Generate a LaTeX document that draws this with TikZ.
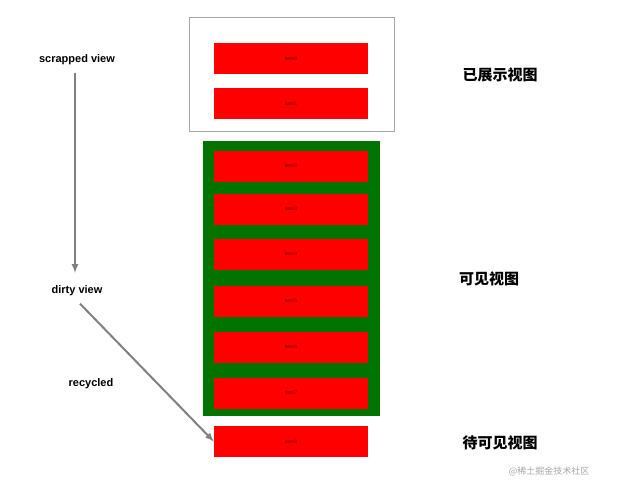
\documentclass[tikz,border=0pt]{standalone}
\usepackage{fontspec}
\setmainfont{Liberation Sans}
\newfontfamily\cjk{Noto Sans CJK SC}
\begin{document}
\begin{tikzpicture}[x=1pt,y=-1pt,
    itembox/.style={fill=red,minimum width=154pt,minimum height=31pt,inner sep=0pt,font=\fontsize{5}{6}\selectfont,text=black!60!red},
    lbl/.style={font=\fontsize{11}{13}\selectfont\bfseries},
    zone/.style={font=\cjk\fontsize{15}{18}\selectfont\bfseries},
    arr/.style={->,>=latex,draw=gray,line width=2pt}]
  \useasboundingbox (0,0) rectangle (620,493);

  \node[draw=gray!70,minimum width=205pt,minimum height=114pt,inner sep=0pt] (shown) at (291.5,74) {};
  \node[fill=green!45!black,minimum width=177pt,minimum height=275pt,inner sep=0pt] (visible) at (291.5,278.5) {};

  \node[itembox] (i0) at (291,58.5) {item0};
  \node[itembox] (i1) at (291,103.5) {item1};
  \foreach \n/\y in {2/166,3/209,4/254,5/301,6/347,7/393}
    \node[itembox] (i\n) at (291,\y) {item\n};
  \node[itembox] (i8) at (291,441.5) {item8};

  \node[lbl] (scrap) at (77,60) {scrapped view};
  \node[lbl] (dirty) at (77,291) {dirty view};
  \node[lbl] (recyc) at (91,384) {recycled};
  \draw[arr] (scrap.south -| 75,0) ++(0,4) -- (75,273);
  \draw[arr] (dirty.south) ++(3,4) -- (i8.west);

  \node[zone] (z1) at (500,75) {已展示视图};
  \node[zone] (z2) at (489,279) {可见视图};
  \node[zone] (z3) at (500,443) {待可见视图};
  \node[font=\cjk\fontsize{9}{11}\selectfont,text=gray!70] (wm) at (549,471) {@稀土掘金技术社区};
\end{tikzpicture}
\end{document}
